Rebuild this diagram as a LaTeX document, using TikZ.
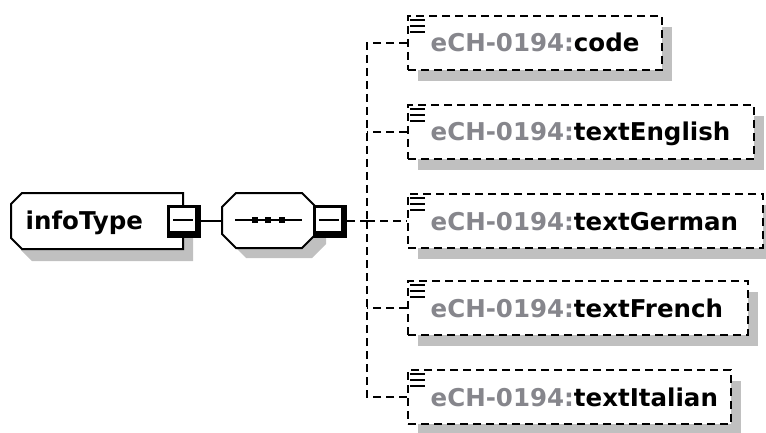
\documentclass[tikz,border=0pt]{standalone}
\usepackage{fontspec}
\setsansfont{DejaVu Sans}
\definecolor{shadowgray}{RGB}{192,192,192}
\definecolor{prefixgray}{RGB}{134,134,140}
\tikzset{
  lbl/.style={font=\sffamily\bfseries\fontsize{24.5}{28}\selectfont, inner sep=0pt, anchor=base west},
  childbox/.style={draw, line width=2.3pt, dash pattern=on 8pt off 5pt, fill=white, inner sep=0pt,
    minimum height=54pt, anchor=west},
  childshadow/.style={fill=shadowgray},
  conn/.style={line width=2.3pt, dash pattern=on 8pt off 5pt},
  solidconn/.style={line width=2.2pt},
  frame/.style={line width=2pt, fill=white},
  ghost/.style={inner sep=0pt, outer sep=0pt},
  iconline/.style={line width=2pt},
}
\newcommand{\minusbox}[2]{%
  \fill[black] (#1-17,#2-16) rectangle (#1+17,#2+17);
  \fill[white] (#1-14,#2-13) rectangle (#1+11,#2+10);
  \draw[line width=2pt] (#1-11,#2-1) -- (#1+9,#2-1);
}
\newcommand{\childicon}[2]{%
  \draw[iconline] (#1+3,#2-23) -- (#1+18,#2-23);
  \draw[iconline] (#1+3,#2-17) -- (#1+18,#2-17);
  \draw[iconline] (#1+3,#2-11) -- (#1+18,#2-11);
}
\begin{document}
\begin{tikzpicture}[x=1pt,y=-1pt]
\useasboundingbox (0,0) rectangle (766,433);

% ---- infoType element ----
\fill[shadowgray, shift={(10,12)}] (11,204) -- (22,193) -- (183,193) -- (183,249) -- (22,249) -- (11,238) -- cycle;
\draw[frame] (11,204) -- (22,193) -- (183,193) -- (183,249) -- (22,249) -- (11,238) -- cycle;
\node[ghost, minimum width=172pt, minimum height=56pt, anchor=north west] (infoType) at (11,193) {};
\node[lbl] (infoLabel) at (25.5,229) {infoType};
\node[ghost, minimum width=34pt, minimum height=33pt] (m1) at (184,221) {};
\minusbox{184}{221}

% ---- sequence compositor ----
\fill[shadowgray, shift={(10,10)}] (222,207) -- (236,193) -- (302,193) -- (316,207) -- (316,234) -- (302,248) -- (236,248) -- (222,234) -- cycle;
\draw[frame] (222,207) -- (236,193) -- (302,193) -- (316,207) -- (316,234) -- (302,248) -- (236,248) -- (222,234) -- cycle;
\node[ghost, minimum width=94pt, minimum height=55pt, anchor=north west] (seq) at (222,193) {};
\draw[line width=2pt] (235,220) -- (302,220);
\foreach \sx in {255,268,282} {\fill (\sx-3,217) rectangle (\sx+3,223);}
\node[ghost, minimum width=34pt, minimum height=33pt] (m2) at (330,221) {};
\minusbox{330}{221}

\draw[solidconn] (m1.east) -- (m1.east -| seq.west);

% ---- children ----
\coordinate (bus) at (367,221);

\foreach \nm/\row/\w in {code/43/254, english/132/346, german/221/355, french/308/340, italian/397/323} {
  \fill[childshadow] (418,\row-16) rectangle (407+\w+11,\row+38);
  \node[childbox, minimum width=\w pt] (\nm) at (407,\row) {};
  \childicon{407}{\row}
}
\node[lbl] (codeLabel) at (430.5,52) {\textcolor{prefixgray}{eCH-0194:}code};
\node[lbl] (englishLabel) at (430.5,141) {\textcolor{prefixgray}{eCH-0194:}textEnglish};
\node[lbl] (germanLabel) at (430.5,230) {\textcolor{prefixgray}{eCH-0194:}textGerman};
\node[lbl] (frenchLabel) at (430.5,317) {\textcolor{prefixgray}{eCH-0194:}textFrench};
\node[lbl] (italianLabel) at (430.5,406) {\textcolor{prefixgray}{eCH-0194:}textItalian};

% ---- connectors ----
\draw[conn] (m2.east) -- (bus);
\draw[conn] (code.west) -| (bus);
\draw[conn] (italian.west) -| (bus);
\draw[conn] (english.west) -- (english.west -| bus);
\draw[conn] (french.west) -- (french.west -| bus);
\draw[conn] (bus) -- (german.west);
\end{tikzpicture}
\end{document}
